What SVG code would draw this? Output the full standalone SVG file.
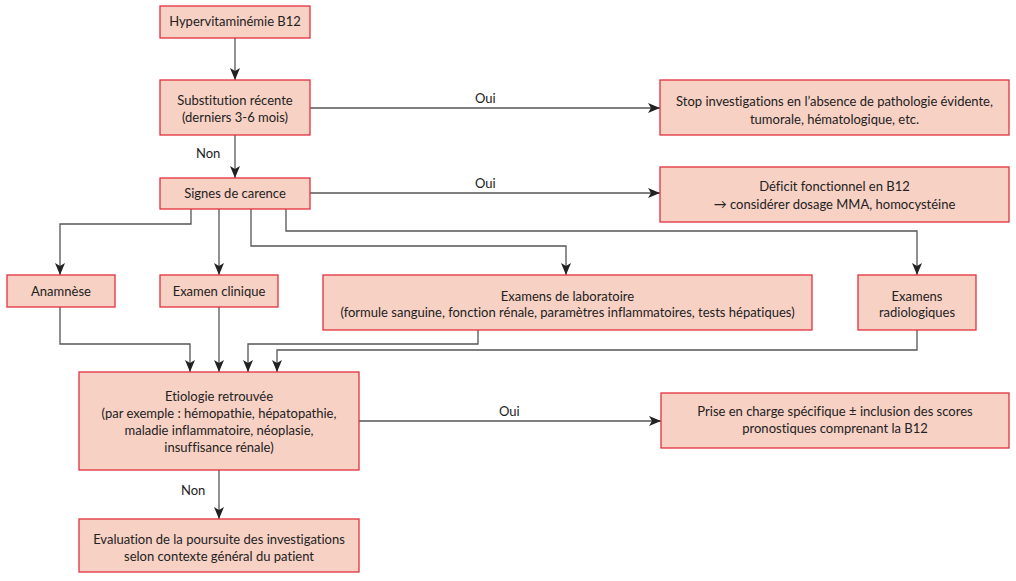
<svg xmlns="http://www.w3.org/2000/svg" width="1016" height="581" viewBox="0 0 1016 581">
<style>
.box{fill:#f7d1c4;stroke:#e2303e;stroke-width:1.3}
.t{font-family:Lato,"Open Sans",sans-serif;font-size:13px;fill:#222;text-anchor:middle;font-variant-ligatures:none}
.l{font-family:Lato,"Open Sans",sans-serif;font-size:13px;fill:#222}
.c{fill:none;stroke:#555;stroke-width:1.3}
</style>
<defs>
<marker id="ah" viewBox="0 0 12 10" refX="12" refY="5" markerWidth="12" markerHeight="10" markerUnits="userSpaceOnUse" orient="auto">
<path d="M0,0 L12,5 L0,10 L3,5 Z" fill="#222"/>
</marker>
</defs>
<rect width="1016" height="581" fill="#fff"/>
<g id="connectors">
<path class="c" d="M235,38 V80" marker-end="url(#ah)"/>
<path class="c" d="M235,135 V178" marker-end="url(#ah)"/>
<path class="c" d="M310,108 H660" marker-end="url(#ah)"/>
<path class="c" d="M310,193 H660" marker-end="url(#ah)"/>
<path class="c" d="M191,209 V224 H60 V275" marker-end="url(#ah)"/>
<path class="c" d="M219,209 V275" marker-end="url(#ah)"/>
<path class="c" d="M251,209 V246 H566 V275" marker-end="url(#ah)"/>
<path class="c" d="M286,209 V231 H917 V275" marker-end="url(#ah)"/>
<path class="c" d="M60,307 V344 H190 V372" marker-end="url(#ah)"/>
<path class="c" d="M219,307 V372" marker-end="url(#ah)"/>
<path class="c" d="M478,330 V344 H248 V372" marker-end="url(#ah)"/>
<path class="c" d="M917,330 V350 H277 V372" marker-end="url(#ah)"/>
<path class="c" d="M359,421 H661" marker-end="url(#ah)"/>
<path class="c" d="M219,470 V519" marker-end="url(#ah)"/>
<text class="l" x="475" y="103">Oui</text>
<text class="l" x="475" y="188">Oui</text>
<text class="l" x="499" y="416">Oui</text>
<text class="l" x="196" y="158">Non</text>
<text class="l" x="181" y="495">Non</text>
</g>
<g id="n1"><rect class="box" x="160" y="6" width="150" height="32"/><text class="t" x="235" y="26">Hypervitaminémie B12</text></g>
<g id="n2"><rect class="box" x="160" y="80" width="150" height="55"/><text class="t" x="235" y="105">Substitution récente</text><text class="t" x="235" y="122">(derniers 3-6 mois)</text></g>
<g id="n3"><rect class="box" x="160" y="178" width="150" height="31"/><text class="t" x="235" y="198">Signes de carence</text></g>
<g id="n4"><rect class="box" x="660" y="80" width="349" height="55"/><text class="t" x="834.5" y="106">Stop investigations en l’absence de pathologie évidente,</text><text class="t" x="834.5" y="124">tumorale, hématologique, etc.</text></g>
<g id="n5"><rect class="box" x="660" y="167" width="349" height="55"/><text class="t" x="834.5" y="191">Déficit fonctionnel en B12</text><text class="t" x="834.5" y="209">→ considérer dosage MMA, homocystéine</text></g>
<g id="n6"><rect class="box" x="7" y="275" width="108" height="32"/><text class="t" x="61" y="296">Anamnèse</text></g>
<g id="n7"><rect class="box" x="160" y="275" width="118" height="32"/><text class="t" x="219" y="296">Examen clinique</text></g>
<g id="n8"><rect class="box" x="323" y="275" width="489" height="55"/><text class="t" x="567.5" y="301">Examens de laboratoire</text><text class="t" x="567.5" y="317">(formule sanguine, fonction rénale, paramètres inflammatoires, tests hépatiques)</text></g>
<g id="n9"><rect class="box" x="858" y="275" width="118" height="55"/><text class="t" x="917" y="301">Examens</text><text class="t" x="917" y="317">radiologiques</text></g>
<g id="n10"><rect class="box" x="79" y="372" width="280" height="98"/><text class="t" x="219" y="401">Etiologie retrouvée</text><text class="t" x="219" y="418">(par exemple : hémopathie, hépatopathie,</text><text class="t" x="219" y="435">maladie inflammatoire, néoplasie,</text><text class="t" x="219" y="452">insuffisance rénale)</text></g>
<g id="n11"><rect class="box" x="661" y="393" width="348" height="55"/><text class="t" x="835" y="416">Prise en charge spécifique ± inclusion des scores</text><text class="t" x="835" y="433">pronostiques comprenant la B12</text></g>
<g id="n12"><rect class="box" x="79" y="519" width="280" height="53"/><text class="t" x="219" y="544">Evaluation de la poursuite des investigations</text><text class="t" x="219" y="561">selon contexte général du patient</text></g>
</svg>
